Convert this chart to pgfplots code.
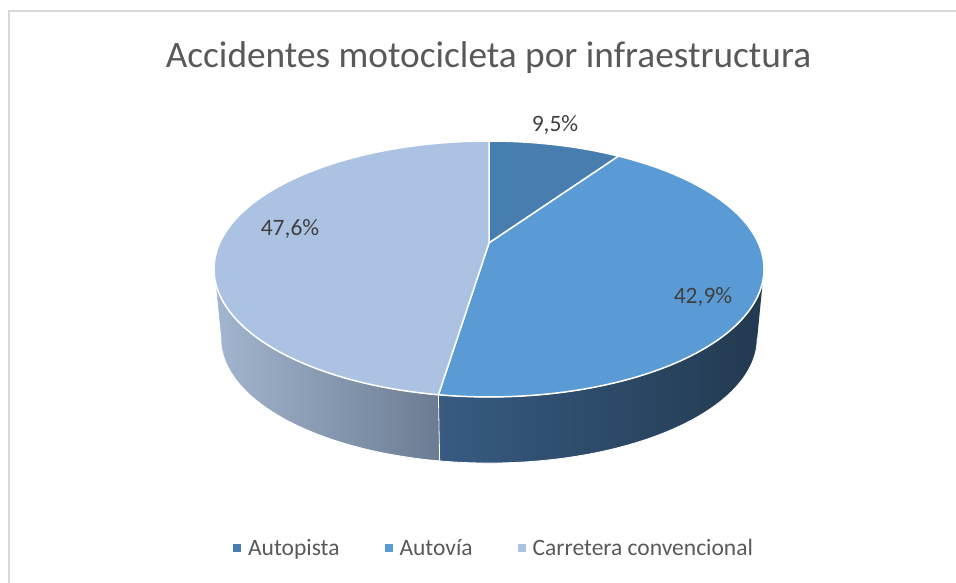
\documentclass[border=0pt]{standalone}
\usepackage{pgfplots}
\pgfplotsset{compat=1.18}
\usepackage{fontspec}
\setmainfont{Carlito}
\definecolor{cAP}{RGB}{71,126,175}
\definecolor{cAV}{RGB}{91,155,213}
\definecolor{cCC}{RGB}{171,194,226}
\definecolor{cTitle}{RGB}{89,89,89}
\definecolor{cLab}{RGB}{64,64,64}
\definecolor{cBorder}{RGB}{217,217,217}
\definecolor{sAVl}{RGB}{55,91,130}
\definecolor{sAVm}{RGB}{36,61,85}
\definecolor{sAVr}{RGB}{34,58,80}
\definecolor{sCCl}{RGB}{163,182,207}
\definecolor{sCCr}{RGB}{107,124,146}
\begin{document}
\begin{tikzpicture}
\begin{axis}[
  x=1pt, y=1pt, xmin=0, xmax=956, ymin=0, ymax=583, y dir=reverse,
  hide axis, clip=false,
  declare function={
    dk(\t)=1+0.203*sin(\t);
    tx(\t)=489+269.3*cos(\t)/dk(\t);
    ty(\t)=243-122.7*sin(\t)/dk(\t);
    bx(\t)=489+262.6*cos(\t)/dk(\t);
    by(\t)=313-119.6*sin(\t)/dk(\t);
  },
  legend style={at={(axis cs:494,548)}, anchor=center, draw=none, fill=none,
    legend columns=3, font=\fontsize{23.5}{28}\selectfont, text=cTitle,
    /tikz/every even column/.append style={column sep=43pt}},
  legend image code/.code={\fill[#1,draw=none] (0pt,-4pt) rectangle (8pt,4pt); \path[draw=none,fill=none] (0pt,0pt) -- (13pt,0pt);},
]
% ---- data: percentages 9.5, 42.9, 47.6 (start at 90 deg, clockwise)
% side of Carretera convencional (front-left), angles -98.64 .. -168.3
\addplot[forget plot, draw=white, line width=0.8pt, left color=sCCl, right color=sCCr,
  variable=\s, domain=0:201, samples=202]
  ({(\s<=100) ? tx(-98.64-69.66*\s/100) : bx(-168.3+69.66*(\s-101)/100)},
   {(\s<=100) ? ty(-98.64-69.66*\s/100) : by(-168.3+69.66*(\s-101)/100)});
% side of Autovia (front-right), angles -11.7 .. -98.64
\addplot[forget plot, draw=white, line width=0.8pt, left color=sAVl, middle color=sAVm, right color=sAVr,
  variable=\s, domain=0:201, samples=202]
  ({(\s<=100) ? tx(-11.7-86.94*\s/100) : bx(-98.64+86.94*(\s-101)/100)},
   {(\s<=100) ? ty(-11.7-86.94*\s/100) : by(-98.64+86.94*(\s-101)/100)});
% top: Autopista 9.5%  (90 -> 55.8)
\addplot[forget plot, fill=cAP, draw=white, line width=1.5pt, line join=round,
  variable=\s, domain=0:102, samples=103]
  ({(\s<1 || \s>101) ? 489 : tx(90-34.2*(\s-1)/100)},
   {(\s<1 || \s>101) ? 243 : ty(90-34.2*(\s-1)/100)});
% top: Autovia 42.9%  (55.8 -> -98.64)
\addplot[forget plot, fill=cAV, draw=white, line width=1.5pt, line join=round,
  variable=\s, domain=0:102, samples=103]
  ({(\s<1 || \s>101) ? 489 : tx(55.8-154.44*(\s-1)/100)},
   {(\s<1 || \s>101) ? 243 : ty(55.8-154.44*(\s-1)/100)});
% top: Carretera convencional 47.6%  (-98.64 -> -270)
\addplot[forget plot, fill=cCC, draw=white, line width=1.5pt, line join=round,
  variable=\s, domain=0:102, samples=103]
  ({(\s<1 || \s>101) ? 489 : tx(-98.64-171.36*(\s-1)/100)},
   {(\s<1 || \s>101) ? 243 : ty(-98.64-171.36*(\s-1)/100)});
\addlegendimage{fill=cAP}
\addlegendentry{Autopista}
\addlegendimage{fill=cAV}
\addlegendentry{Autovía}
\addlegendimage{fill=cCC}
\addlegendentry{Carretera convencional}
% labels
\node[font=\fontsize{23.5}{28}\selectfont, text=cLab] at (axis cs:555,125) {9,5\%};
\node[font=\fontsize{23.5}{28}\selectfont, text=cLab] at (axis cs:703,297) {42,9\%};
\node[font=\fontsize{23.5}{28}\selectfont, text=cLab] at (axis cs:290,229) {47,6\%};
\node[anchor=base, font=\fontsize{37.3}{44}\selectfont, text=cTitle] at (axis cs:488.5,68) {Accidentes motocicleta por infraestructura};
\draw[cBorder, line width=2pt] (axis cs:9,583) -- (axis cs:9,11) -- (axis cs:956,11);
\end{axis}
\pgfresetboundingbox
\path[use as bounding box] (current axis.south west) rectangle (current axis.north east);
\end{tikzpicture}
\end{document}
